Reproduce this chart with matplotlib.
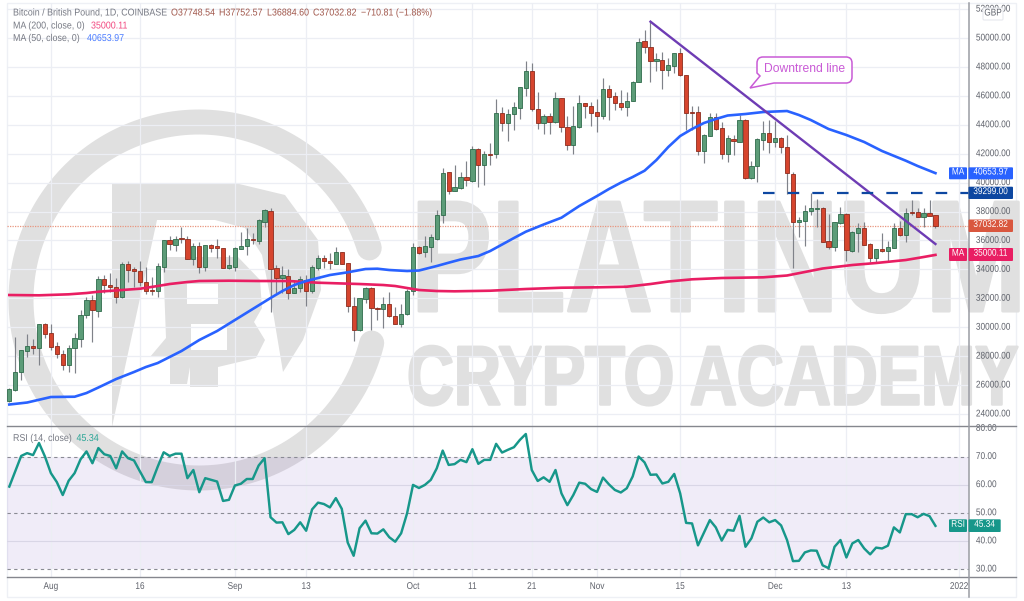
import matplotlib
matplotlib.use("Agg")
import matplotlib.pyplot as plt
import numpy as np
from matplotlib.patches import Polygon, Rectangle, PathPatch, FancyBboxPatch
from matplotlib.patheffects import AbstractPathEffect
from matplotlib.path import Path
from matplotlib.lines import Line2D
from matplotlib.transforms import Affine2D

opens = [24921,25658,26926,28355,28724,28586,30199,29577,28701,28148,27387,28540,29208,30822,31882,31144,33311,32942,32804,32066,34371,34003,33864,33127,32574,32481,34187,36031,35708,36146,36077,34717,35616,34141,35685,35593,35455,34072,34187,35432,35616,36123,
 35984,37275,38059,34071,33426,33541,32389,32734,33265,32481,34094,34763,34601,34371,35178,34417,31467,29807,31974,32734,31328,31236,31605,30775,30245,30890,32504,35523,35178,35546,36123,37759,40710,39419,39626,40387,40133,42323,41194,42000,
 41956,44791,44100,44722,45137,46566,47718,45114,44100,44584,44192,45828,43869,42601,43869,45483,45321,44860,44607,46451,45990,45529,45229,45644,46958,49816,49355,48387,48479,47787,48064,48940,47442,44883,44883,42163,43247,44537,43754,41979,43039,42832,
 44329,40295,41148,42946,43407,42831,43107,42462,40595,37276,37345,38036,38198,38221,35985,35524,37184,37806,35293,36538,36861,35731,34809,35386,35293,35478,36861,36377,37944,37944,37621,37875,37748.54]
highs = [25774,29346,28424,29531,29162,30199,30268,30222,29001,28424,28770,29623,31190,32113,32228,33542,33611,33726,33380,34533,34579,34141,34602,34141,33449,34418,36031,36331,36308,36953,36308,35800,35870,35685,35754,36077,35455,34994,35570,36561,36838,36538,
 37460,38151,38220,34302,34233,34002,33265,33541,33610,34302,34993,34993,35108,35523,35224,34463,32112,32043,32803,32803,31420,32112,32458,31374,31605,32619,35800,35615,36307,36445,38105,40986,40756,41217,40756,41516,42531,42369,42208,42761,
 45759,45206,45068,45598,46635,48433,48295,46289,44745,44791,46289,45828,44630,45298,46059,45529,45598,45759,47211,46750,46289,46404,46289,47027,49977,50554,51130,48986,49055,48594,48986,49286,47442,45298,45298,43362,44791,44791,44215,43293,43293,44676,
 44375,41517,43061,44283,44329,44283,43176,43292,40756,37644,38451,39304,38866,38290,37829,37299,38290,37875,36630,37183,37299,35800,35409,36492,35985,37230,37368,38267,38797,38221,38221,38797,37752.57]
lows = [24852,25612,26350,27963,28148,27387,29231,28424,27848,27042,26926,26811,28655,30614,28955,30683,32343,32458,31652,31997,33150,32804,32850,32297,32228,32066,33841,35339,35293,35800,34694,34302,33726,33910,35224,34763,34072,34049,33910,35409,34994,35731,
 35754,36906,31075,32343,32389,31928,32343,32458,31467,32343,33956,34117,34025,34348,34348,31075,29046,29761,31651,29807,30498,29968,30729,30222,30037,30867,32227,35062,34832,34532,36030,37183,39211,39396,39534,39765,40064,39718,39834,41217,
 41679,43592,42901,43639,44399,45990,44975,43685,43362,43362,44100,43523,42255,41979,43754,44445,43915,43523,44376,44330,45022,45022,44607,45621,46935,48940,46981,47718,46474,47373,47557,47396,43639,43639,41910,41334,43224,43639,41610,41449,41910,42786,
 40226,40249,40065,42255,42024,42485,42024,39212,34072,36261,35639,37760,36953,35893,35409,35293,37137,34602,35224,35224,35662,34487,34533,35224,34579,35455,36308,35916,37760,37598,36953,37690,36884.60]
closes = [25728,26926,28424,28724,28586,30199,29531,28655,28125,27387,28586,29254,30822,31882,31190,33311,32896,32804,32066,34371,33956,33864,33150,32481,32527,34233,36031,35731,36077,36077,34717,35639,34141,35685,35501,35455,34118,34279,35455,35639,36077,36031,
 37413,38105,34002,33426,33587,32389,32734,33310,32481,34186,34763,34578,34417,35178,34371,31467,29807,31997,32734,31305,31236,31605,30775,30245,30913,32527,35523,35155,35593,36215,37759,40640,39419,39672,40410,40156,42323,41194,41977,41931,
 44791,44100,44745,45206,46635,47718,45068,44100,44584,44215,45828,43823,42601,43915,45483,45298,44837,44607,46451,45897,45529,45229,45667,46981,49747,49378,48387,48525,47787,48133,48940,47442,44837,44837,42186,43316,44537,43731,41979,43062,42878,44353,
 40295,41171,42992,43407,42831,43084,42485,40641,37299,37414,38059,38221,38221,35916,35524,37253,37806,35340,36584,36861,35708,34809,35386,35270,35524,36861,36377,37875,37875,37621,37898,37714,37032.82]

ma50_idx = [0,3,7,11,13,15,18,21,23,25,29,32,35,38,41,44,46,48,50,52,54,57,60,62,64,67,69,70,72,74,76,79,81,83,85,87,90,93,96,99,101,103,105,107,109,111,113,115,117,119,121,124,127,131,133,135,138,141,144,147,151,153,156]
ma50 = [24653,24791,25172,25192,25448,25829,26416,26901,27246,27523,28353,29114,29736,30497,31258,32018,32503,32917,33194,33402,33609,33796,34024,34045,33955,33886,33920,34024,34232,34460,34681,34923,35269,35718,36168,36604,37102,37572,38381,39073,39557,39993,40387,40822,41562,42462,43222,43706,44121,44398,44640,44744,44882,44951,44675,44329,43706,43291,42807,42185,41514,41148,40653.97]
ma200_idx = [0,5,10,13,15,19,22,25,27,30,32,37,42,47,52,59,63,65,67,69,72,75,81,87,93,99,104,108,111,115,120,127,131,134,137,142,146,151,154,156]
ma200 = [32226,32205,32274,32364,32454,32572,32661,32848,32986,33125,33194,33215,33194,33194,33076,32986,32917,32848,32710,32572,32503,32482,32523,32641,32730,32758,32799,32986,33159,33312,33402,33450,33575,33817,34059,34301,34439,34646,34854,35000.11]
rsi = [59.3,64.7,70.2,71.2,70.5,74.8,70.0,64.1,60.9,56.3,61.4,64.1,69.0,71.8,67.6,73.0,70.8,70.2,65.8,71.8,69.4,68.6,64.7,60.9,60.9,66.4,71.5,70.2,71.0,71.0,62.3,65.2,57.3,62.3,61.7,61.1,54.2,54.6,59.7,60.3,62.0,62.0,66.8,69.4,48.4,46.5,46.6,42.4,43.9,46.6,43.6,51.2,53.6,53.1,51.9,55.2,51.4,39.4,34.7,44.5,47.2,42.7,42.6,44.1,41.3,39.7,42.7,49.8,59.9,58.8,59.9,61.7,65.8,72.1,67.0,67.3,68.8,68.0,72.6,67.4,68.8,68.8,74.5,71.4,72.4,
 73.3,75.9,78.0,65.2,61.3,62.6,61.0,65.2,56.9,52.7,56.3,60.7,60.3,58.4,57.4,62.5,60.1,58.1,57.2,58.7,62.9,70.0,67.9,63.5,63.6,60.4,61.0,63.8,56.9,46.4,46.2,38.4,42.9,47.4,44.8,40.1,43.9,43.6,48.9,37.9,40.9,46.8,48.3,46.6,47.4,45.5,40.3,32.8,32.9,35.9,36.6,36.5,31.3,30.3,37.9,40.3,34.1,39.1,40.3,37.3,35.2,37.6,37.3,38.3,44.8,43.0,49.5,49.5,48.4,49.6,48.8,45.34]

date_ticks = [7,22,38,50,68,78,88,99,113,129,141,160]
date_labels = ["Aug","16","Sep","13","Oct","11","21","Nov","15","Dec","13","2022"]
price_ticks = list(range(24000,52001,2000))
rsi_ticks = [30,40,50,60,70,80]
trend_idx = [108,156]
trend_val = [51130,35753]
resistance_idx = [127,161.6]
resistance = [39299,39299]
last_close = 37032.82

class Stretch(AbstractPathEffect):
    """Draws a text with its glyphs stretched about the baseline origin."""
    def __init__(self, sx=1.0, sy=1.0, stroke=0.0):
        super().__init__()
        self.sx, self.sy, self.stroke = sx, sy, stroke
    def draw_path(self, renderer, gc, tpath, affine, rgbFace=None):
        m = affine.get_matrix()
        x0, y0 = m[0,2], m[1,2]
        a = affine + Affine2D().translate(-x0,-y0).scale(self.sx,self.sy).translate(x0,y0)
        g = renderer.new_gc(); g.copy_properties(gc)
        if self.stroke:
            g.set_linewidth(self.stroke); g.set_foreground(rgbFace)
        renderer.draw_path(g, tpath, a, rgbFace)
        g.restore()

W,H = 1024,601
plt.rcParams['font.family'] = ['Liberation Sans','DejaVu Sans']
fig = plt.figure(figsize=(W/100,H/100),dpi=100,facecolor='white')
FX = [Stretch(1,1.18)]
TS = 5.95

def make_px_axes(z):
    a = fig.add_axes([0,0,1,1],zorder=z)
    a.set_xlim(0,W); a.set_ylim(H,0); a.axis('off'); a.patch.set_visible(False)
    return a
bg = make_px_axes(0)
ov = make_px_axes(5)

L,R,T,M,B = 7,968.7,3,426,577
ax = fig.add_axes([L/W,(H-M)/H,(R-L)/W,(M-T)/H],zorder=1)
ar = fig.add_axes([L/W,(H-B)/H,(R-L)/W,(B-M)/H],zorder=1,sharex=ax)
for a in (ax,ar):
    a.patch.set_visible(False)
    for s in a.spines.values(): s.set_visible(False)
    a.set_axisbelow(True)

# ---------- watermark ----------
WM = '#e0e0e0'
cx,cy = 199,300
def ring(t1,t2,r=178,w=25):
    t = np.radians(np.linspace(t1,t2,200))
    bg.plot(cx+r*np.cos(t),cy-r*np.sin(t),color=WM,lw=w*0.72,solid_capstyle='round',zorder=1)
ring(17,346)
bg.add_patch(Polygon([(112,183),(235,183),(285,195),(318,240),(321,290),(303,340),(283,372),(271,300),(262,255),(245,228),(215,220),(157,220),(112,427)],closed=True,fc=WM,ec='none',zorder=1))
bg.add_patch(Polygon([(163,257),(238,257),(260,280),(262,308),(254,322),(265,340),(256,358),(218,367),(218,387),(190,387),(190,367),(187,384),(170,384),(170,357),(150,357),(166,338)],closed=True,fc=WM,ec='none',zorder=1))
bg.add_patch(Rectangle((187,284),31,20,fc='white',ec='none',zorder=1.2))
bg.add_patch(Rectangle((191,324),36,26,fc='white',ec='none',zorder=1.2))
bg.text(411,311,"PLATINUM",fontsize=87,fontweight='bold',color=WM,ha='left',va='baseline',zorder=1,
        path_effects=[Stretch(1,1.31,stroke=2.2)])
bg.text(407,404.5,"CRYPTO ACADEMY",fontsize=46.8,fontweight='bold',color=WM,ha='left',va='baseline',zorder=1,
        path_effects=[Stretch(1,1.29,stroke=1.8)])
bg.add_patch(Rectangle((7,3),1009,594,fc='none',ec='#eef0f5',lw=1,zorder=0.5))

# ---------- price panel ----------
GRID = '#eceef4'
ax.set_xlim(-0.39,161.6)
y2p = lambda y: 50000-(y-38)/0.01446
ax.set_ylim(y2p(M),y2p(T))
ax.set_yticks(price_ticks)
ax.set_yticklabels([f"{v:.2f}" for v in price_ticks])
ax.set_xticks(date_ticks)
ax.yaxis.tick_right()
ax.tick_params(axis='y',length=0,pad=5.2,labelsize=TS,labelcolor='#5f626b')
ax.tick_params(axis='x',length=0,labelbottom=False)
ax.grid(True,color=GRID,lw=0.9)

n = np.arange(len(closes))
o,h,l,c = map(np.array,(opens,highs,lows,closes))
up = c>=o
ax.vlines(n,l,h,color='#7f8289',lw=0.85,zorder=2)
ax.bar(n[up],(c-o)[up],bottom=o[up],width=0.72,fc='#5c9c78',ec='#2f6b4b',lw=0.6,zorder=3)
ax.bar(n[~up],(o-c)[~up],bottom=c[~up],width=0.72,fc='#d6452e',ec='#8c2c1e',lw=0.6,zorder=3)
ax.plot(ma200_idx,ma200,color='#e91e63',lw=1.9,zorder=4,solid_joinstyle='round')
ax.plot(ma50_idx,ma50,color='#2962ff',lw=1.9,zorder=4,solid_joinstyle='round')
ax.plot(trend_idx,trend_val,color='#6e3cb4',lw=1.7,zorder=5)
ax.plot(resistance_idx,resistance,color='#0d47a1',lw=1.6,dashes=(5.2,5.9),zorder=5)
ax.axhline(last_close,color='#e9967f',lw=0.9,ls=(0,(1,1)),zorder=1.5)

# ---------- RSI panel ----------
ar.set_ylim(30-(B-569)/2.8125,70+(456.5-M)/2.8125)
ar.set_yticks(rsi_ticks)
ar.set_yticklabels([f"{v:.2f}" for v in rsi_ticks])
ar.yaxis.tick_right()
ar.tick_params(axis='y',length=0,pad=5.2,labelsize=TS,labelcolor='#5f626b')
ar.set_xticks(date_ticks)
ar.set_xticklabels(date_labels)
ar.tick_params(axis='x',length=0,pad=5,labelsize=TS,labelcolor='#5f626b')
ar.grid(True,axis='x',color=GRID,lw=0.9)
ar.axhspan(30,70,color='#7e57c2',alpha=0.11,lw=0,zorder=0.5)
for v in (40,60): ar.axhline(v,color='#d9d6e6',lw=0.8,zorder=1)
for v in (30,50,70): ar.axhline(v,color='#8a8b94',lw=0.8,dashes=(3,3),zorder=1)
ar.plot(n,rsi,color='#17978a',lw=1.75,zorder=4,solid_joinstyle='round')
for lab in ax.get_yticklabels()+ar.get_yticklabels()+ar.get_xticklabels():
    lab.set_path_effects(FX)

# ---------- dividers ----------
for y in (M,B):
    ov.add_line(Line2D([L,1016],[y,y],color='#85878e',lw=1.0))
ov.add_line(Line2D([R,R],[T,597],color='#9a9ca3',lw=1.1))

# ---------- legend ----------
TXT='#777a84'; FS=6.4
def t(x,y,s,color=TXT):
    ov.text(x,y,s,color=color,fontsize=FS,va='center',ha='left',path_effects=[Stretch(1,1.12)])
t(13,13,"Bitcoin / British Pound, 1D, COINBASE")
RED='#a0564a'
t(171,13,"O37748.54",RED); t(219,13,"H37752.57",RED); t(267,13,"L36884.60",RED); t(313,13,"C37032.82",RED)
t(361,13,"\u2212710.81 (\u22121.88%)",RED)
t(13,26,"MA (200, close, 0)"); t(91,26,"35000.11",'#f2477f')
t(13,38.5,"MA (50, close, 0)"); t(87,38.5,"40653.97",'#4a7cff')
t(13,438.5,"RSI (14, close)"); t(76.5,438.5,"45.34",'#2aa596')

# ---------- price labels ----------
def box(x0,x1,y0,y1,col,s,tc='white',fs=TS):
    ov.add_patch(FancyBboxPatch((x0+1,y0+1),x1-x0-2,y1-y0-2,boxstyle='round,pad=1',fc=col,ec='none',zorder=3))
    ov.text((x0+x1)/2,(y0+y1)/2-0.3,s,color=tc,fontsize=fs,ha='center',va='center',zorder=4,path_effects=FX)
box(949,967,167.3,179.3,'#2962ff','MA'); box(968.5,1013,167.3,179.3,'#2962ff','40653.97')
box(968.5,1013,186.7,199,'#0d47a1','39299.00')
box(968.5,1013,219.5,232,'#d9573f','37032.82')
box(949,967,248,261,'#e91e63','MA'); box(968.5,1013,248,261,'#e91e63','35000.11')
box(949,967,519.3,532,'#17978a','RSI'); box(968.5,1000.7,519.3,532,'#17978a','45.34')
ov.add_patch(FancyBboxPatch((984,9),18,10,boxstyle='round,pad=1',fc='white',ec='#e4e6ec',lw=0.7,zorder=3))
ov.text(993,14,'GBP',color='#5f626b',fontsize=TS,ha='center',va='center',zorder=4,path_effects=FX)

# ---------- callout ----------
x0,x1,y0,y1,r = 757,852,57,83,6
verts = [(x0+r,y0),(x1-r,y0),(x1,y0),(x1,y0+r),(x1,y1-r),(x1,y1),(x1-r,y1),(x0+17,y1),(750,88),(x0+3,y1-7),(x0,y1-10),(x0,y0+r),(x0,y0),(x0+r,y0),(x0+r,y0)]
codes = [Path.MOVETO,Path.LINETO,Path.CURVE3,Path.CURVE3,Path.LINETO,Path.CURVE3,Path.CURVE3,Path.LINETO,Path.LINETO,Path.LINETO,Path.LINETO,Path.LINETO,Path.CURVE3,Path.CURVE3,Path.CLOSEPOLY]
ov.add_patch(PathPatch(Path(verts,codes),fc='white',ec='#c95bd6',lw=1.1,zorder=3))
ov.text(804.5,69,'Downtrend line',color='#c95bd6',fontsize=8.7,ha='center',va='center',zorder=4)

fig.savefig('out.png',dpi=100)
